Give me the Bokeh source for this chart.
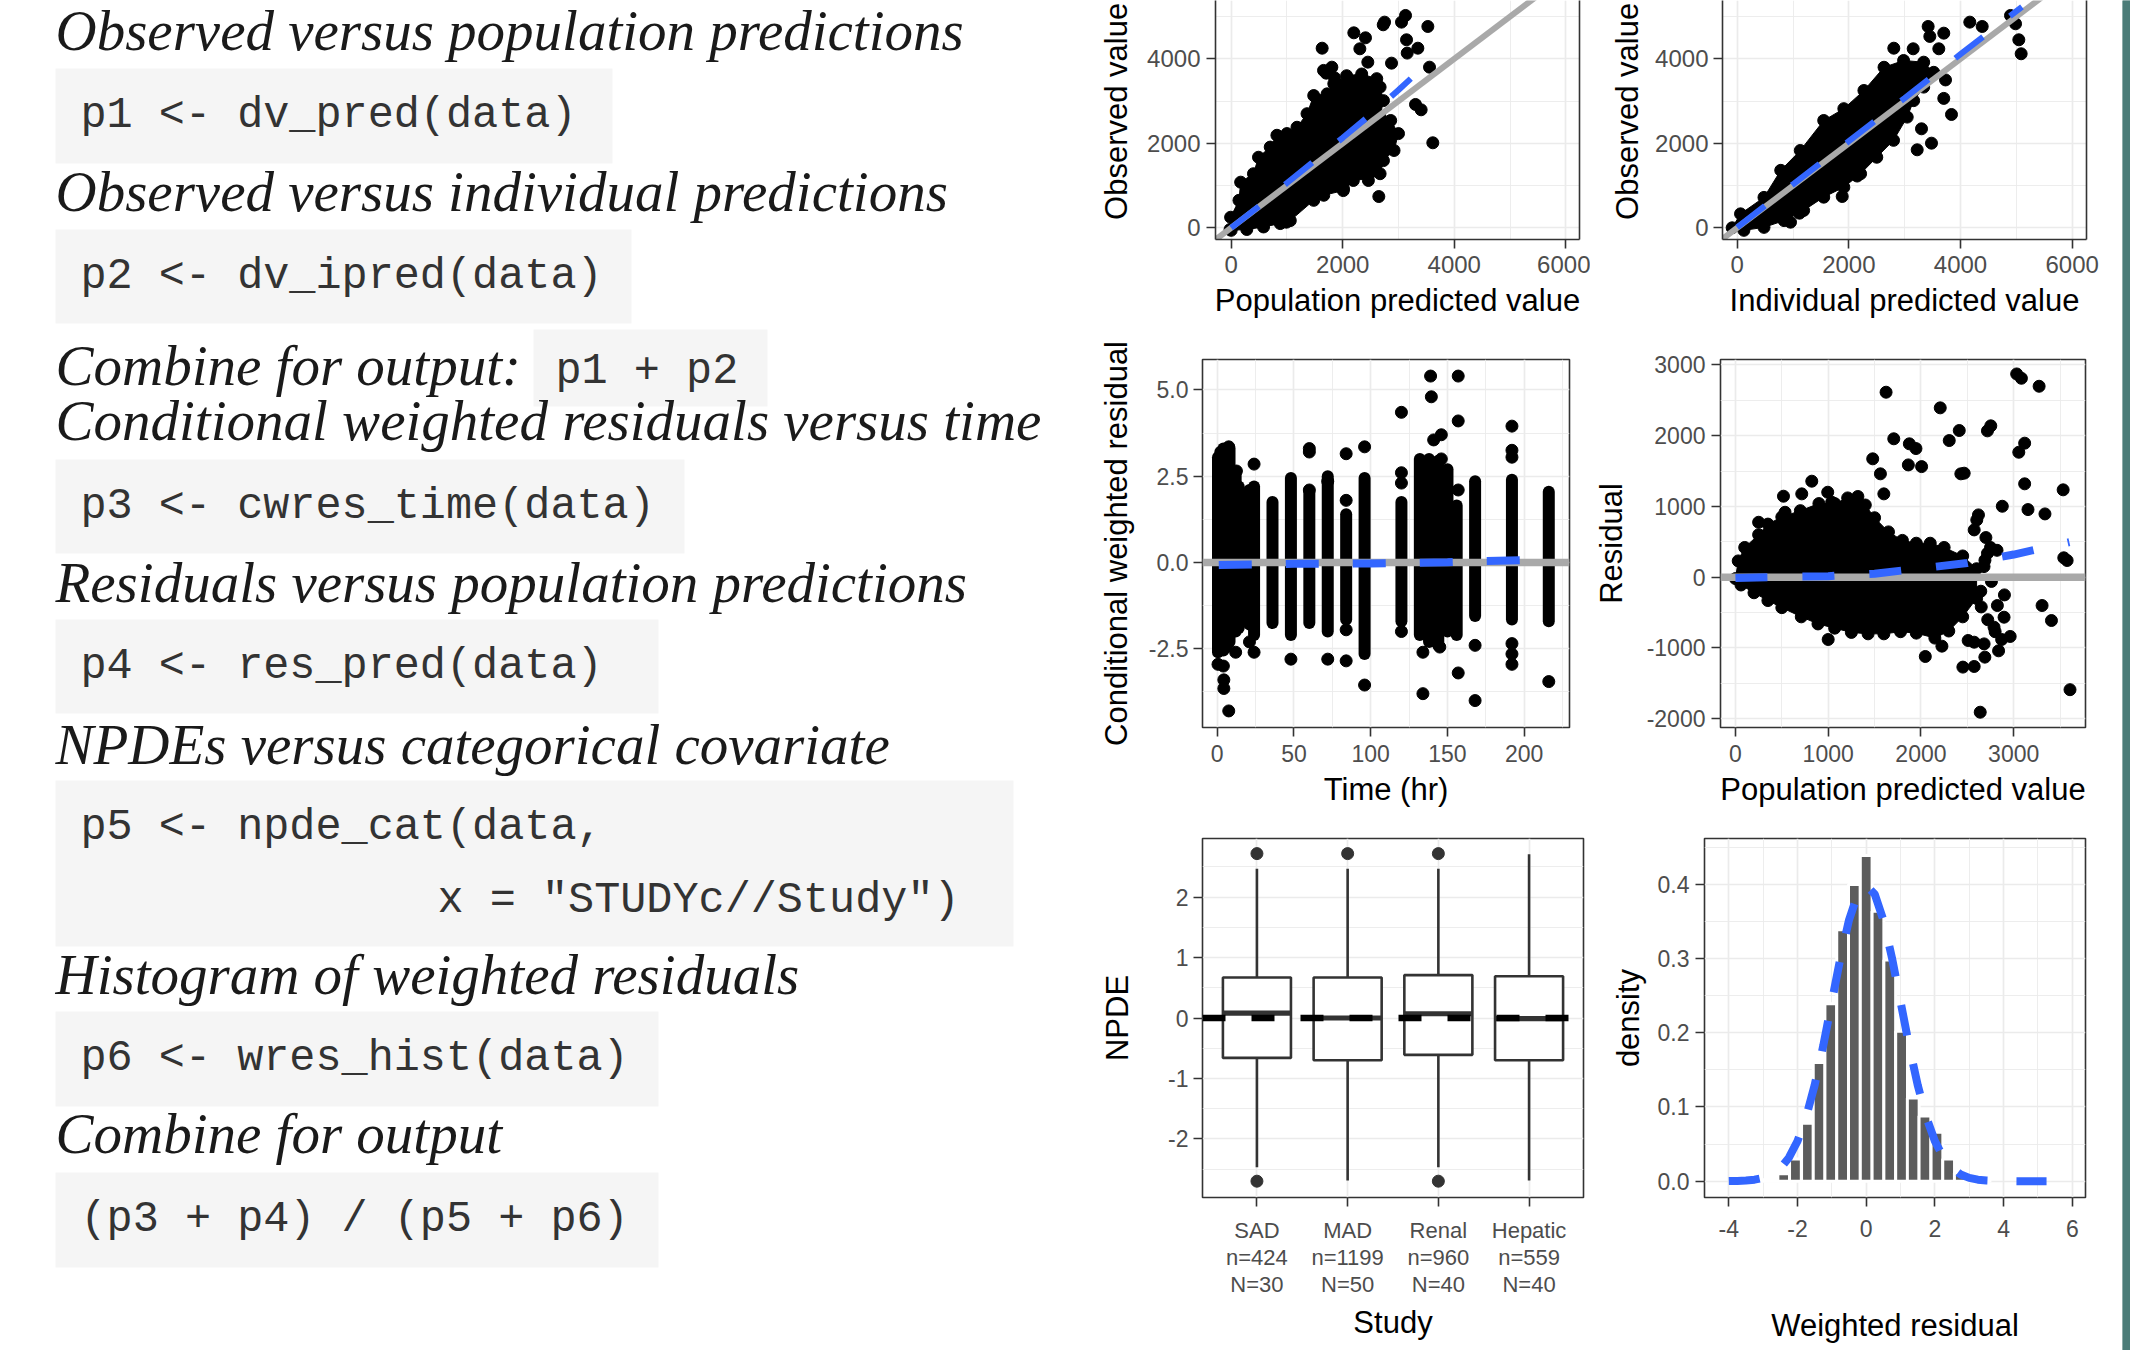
import math
from bokeh.plotting import figure
from bokeh.layouts import row, column
from bokeh.models import Range1d, FixedTicker, LinearAxis
from bokeh.embed import file_html
from bokeh.resources import INLINE
from bokeh.core.properties import value

# ============================ DATA ============================
# ---- left-hand text panel
HEADINGS = [
    "Observed versus population predictions",
    "Observed versus individual predictions",
    "Combine for output:",
    "Conditional weighted residuals versus time",
    "Residuals versus population predictions",
    "NPDEs versus categorical covariate",
    "Histogram of weighted residuals",
    "Combine for output",
]
CODE_BLOCKS = [
    ["p1 <- dv_pred(data)"],
    ["p2 <- dv_ipred(data)"],
    ["p3 <- cwres_time(data)"],
    ["p4 <- res_pred(data)"],
    ["p5 <- npde_cat(data,", "              x = \"STUDYc//Study\")"],
    ["p6 <- wres_hist(data)"],
    ["(p3 + p4) / (p5 + p6)"],
]
INLINE_CODE = "p1 + p2"

# ---- plot 1: observed vs population predictions
P1_X_TICKS = [0, 2000, 4000, 6000]
P1_X_MINOR = [1000, 3000, 5000]
P1_Y_TICKS = [0, 2000, 4000]
P1_Y_MINOR = [1000, 3000, 5000]
P1_CLOUD_PRED = [-20, -10, 140, 170, 400, 490, 700, 820, 1000, 1180, 1360, 1480, 1720, 1840, 2070, 2340,
                 2610, 2670, 2730, 2670, 2860, 3000, 2920, 2730, 2670, 2460, 2310, 2190, 2010, 1660, 1480,
                 1060, 880, 580, 280, 0]
P1_CLOUD_DV = [-40, 250, 650, 1080, 1280, 1670, 1910, 2190, 2230, 2380, 2700, 3130, 3170, 3410, 3600, 3640,
               3530, 3330, 3010, 2620, 2540, 2230, 1830, 1590, 1280, 1120, 1280, 1120, 880, 770, 650,
               170, 100, 20, -40, -60]
P1_PRED = [1631, 2199, 2408, 2307, 2450, 2726, 2750, 3054, 3126, 3144, 3156, 3347, 3526, 2875, 3556, 3305,
           3406, 3615, 2647, 990, 1704, 1853, 2014, 1656, 1805]
P1_DV = [4251, 4615, 4497, 4237, 3921, 4805, 4868, 4868, 5026, 4450, 4135, 4251, 4765, 3897, 3802, 2919,
         2793, 2012, 740, 133, 3660, 3550, 922, 3725, 3802]
P1_SMOOTH_PRED = [0, 500, 1000, 1500, 2000, 2500, 3000, 3220]
P1_SMOOTH_DV = [0, 510, 1060, 1590, 2130, 2680, 3260, 3530]

# ---- plot 2: observed vs individual predictions
P2_CLOUD_IPRED = [-90, 60, 480, 780, 1130, 1550, 1910, 2270, 2630, 2980, 3340, 3520, 3340, 3160, 3045,
                  2800, 2500, 2210, 1910, 1550, 1190, 840, 480, 120]
P2_CLOUD_DV = [0, 330, 720, 1360, 1830, 2540, 2820, 3250, 3800, 3960, 3920, 3680, 3330, 3010, 2620,
               2070, 1670, 1280, 960, 725, 410, 170, 10, -60]
P2_IPRED = [2805, 3152, 3420, 3450, 3700, 3611, 4166, 4388, 4895, 4985, 5044, 5086, 3838, 3700, 3301,
            3480, 3224, 1881, 955, 1116, 2149, 2387, 3731]
P2_DV = [4251, 4237, 4765, 4530, 4607, 4237, 4868, 4765, 5026, 4829, 4450, 4119, 2682, 3063, 2343,
         2003, 1846, 741, 133, 346, 1225, 1830, 3500]
P2_SMOOTH_IPRED = [0, 1000, 2000, 3000, 4000, 5100]
P2_SMOOTH_DV = [10, 1030, 2050, 3070, 4110, 5230]

# ---- plot 3: CWRES vs time
P3_X_TICKS = [0, 50, 100, 150, 200]
P3_X_MINOR = [25, 75, 125, 175, 225]
P3_Y_TICKS = [-2.5, 0.0, 2.5, 5.0]
P3_Y_LABELS = ["-2.5", "0.0", "2.5", "5.0"]
P3_Y_MINOR = [-3.75, -1.25, 1.25, 3.75]
P3_COL_TIME = [0.5, 2, 4, 6, 8, 12, 14, 21, 24, 36, 48, 60, 72, 84, 96, 120, 132, 138, 144, 150, 156, 168, 192, 216]
P3_COL_LO = [-2.6, -2.5, -2.55, -2.45, -2.3, -2.0, -1.9, -1.8, -2.1, -1.75, -2.1, -1.75, -2.0, -1.65, -2.65, -1.7,
             -2.1, -2.3, -2.4, -2.0, -2.1, -1.55, -1.65, -1.7]
P3_COL_HI = [3.05, 3.2, 3.3, 3.3, 3.3, 2.6, 2.2, 2.1, 2.2, 1.75, 2.45, 2.05, 2.5, 1.4, 2.45, 1.75,
             3.0, 3.0, 2.95, 2.7, 1.65, 2.35, 2.4, 2.05]
P3_TIME = [0.5, 4, 4.3, 4.3, 7.5, 7.5, 12, 12.5, 24, 24, 21, 48, 60, 60, 60, 72, 72, 84, 84, 84, 84, 96, 96,
           120, 120, 120, 120, 139, 139.5, 141, 146, 146, 134, 134, 145, 157, 157, 157, 157, 168, 168,
           192, 192, 192, 192, 192, 192, 216]
P3_CWRES = [-2.95, -3.0, -3.4, -3.65, -4.3, 3.35, -2.6, 2.65, 2.85, -2.6, -2.3, -2.8, 3.3, 3.2, 2.1, 2.35,
            -2.8, 3.15, 1.8, -1.95, -2.85, 3.35, -3.55, 4.35, 2.6, 2.3, -2.0, 5.4, 4.8, 3.55, 3.7, 3.0,
            -2.6, -3.8, -2.45, 5.4, 4.1, 2.1, -3.2, -2.4, -4.0, 3.95, 3.25, 3.05, -2.35, -2.65, -2.95, -3.45]
P3_SMOOTH_TIME = [1, 25, 50, 75, 100, 125, 150, 175, 200, 218]
P3_SMOOTH_CWRES = [-0.07, -0.055, -0.04, -0.035, -0.03, -0.01, 0.01, 0.04, 0.065, 0.075]

# ---- plot 4: residuals vs population predictions
P4_X_TICKS = [0, 1000, 2000, 3000]
P4_X_MINOR = [500, 1500, 2500, 3500]
P4_Y_TICKS = [-2000, -1000, 0, 1000, 2000, 3000]
P4_Y_MINOR = [-1500, -500, 500, 1500, 2500]
P4_CLOUD_PRED = [0, 30, 100, 250, 350, 500, 700, 900, 1070, 1210, 1320, 1400, 1500, 1650, 1800, 1950, 2100,
                 2250, 2450, 2600, 2600, 2450, 2300, 2150, 1950, 1780, 1600, 1430, 1250, 1070, 890, 710,
                 500, 350, 200, 60]
P4_CLOUD_RES = [-20, 230, 420, 600, 750, 850, 940, 1040, 1040, 1120, 1140, 1020, 840, 640, 520, 480, 480,
                420, 300, 120, -300, -560, -760, -860, -790, -770, -800, -800, -780, -720, -660, -560,
                -430, -330, -220, -110]
P4_PRED = [1624, 2208, 1707, 1875, 1946, 2305, 2413, 2717, 2753, 3032, 3083, 3274, 3055, 3118, 1480, 1563,
           1864, 2007, 2430, 2466, 3118, 3533, 1600, 2877, 3154, 3337, 823, 518, 715, 995, 1038, 250, 535,
           3576, 3540, 2717, 2602, 2574, 3306, 3407, 2962, 2837, 2047, 2226, 2452, 2574, 2689, 2639, 3607,
           1000, 2788, 2896, 2824, 2645, 2509, 2574, 2681,
           2700, 2750, 2820, 2680, 2760, 2900, 2650, 2720, 2800, 2620, 2690, 2870]
P4_RES = [2613, 2392, 1955, 1884, 1817, 1930, 2072, 2067, 2138, 2871, 2810, 2697, 1765, 1893, 1672, 1460,
          1586, 1562, 1460, 1469, 1319, 1234, 1177, 1002, 955, 894, 1356, 1144, 1177, 1200, 1059, 776, 917,
          236, 274, 337, 809, 668, -400, -612, -837, -1040, -1120, -974, -1270, -1261, -1129, -1907, -1589,
          -880, -706, -565, -400, -198, -894, -918, -942,
          560, 420, 380, 150, -60, -250, -420, -600, -770, 880, 240, -880]
P4_SMOOTH_PRED = [0, 500, 1000, 1500, 2000, 2500, 3000, 3600]
P4_SMOOTH_RES = [-10, 5, 15, 50, 125, 200, 320, 495]

# ---- plot 5: NPDE by study
P5_STUDY = ["SAD", "MAD", "Renal", "Hepatic"]
P5_N_OBS = [424, 1199, 960, 559]
P5_N_ID = [30, 50, 40, 40]
P5_Q1 = [-0.66, -0.70, -0.61, -0.70]
P5_MED = [0.08, 0.0, 0.07, -0.01]
P5_Q3 = [0.67, 0.67, 0.71, 0.69]
P5_WHI = [2.47, 2.47, 2.47, 2.71]
P5_WLO = [-2.47, -2.69, -2.47, -2.69]
P5_OUT_STUDY = ["SAD", "SAD", "MAD", "Renal", "Renal"]
P5_OUT_NPDE = [2.72, -2.70, 2.72, 2.72, -2.70]
P5_Y_TICKS = [-2, -1, 0, 1, 2]
P5_Y_MINOR = [-2.5, -1.5, -0.5, 0.5, 1.5, 2.5]

# ---- plot 6: histogram of weighted residuals
P6_BIN_CENTER = [-3.09, -2.74, -2.40, -2.06, -1.71, -1.37, -1.03, -0.686, -0.343, 0.0, 0.343, 0.686, 1.03,
                 1.37, 1.71, 2.06, 2.40, 2.74, 3.09, 3.43]
P6_DENSITY = [0.002, 0.003, 0.010, 0.030, 0.078, 0.160, 0.239, 0.339, 0.400, 0.439, 0.364, 0.298, 0.202,
              0.112, 0.088, 0.066, 0.030, 0.011, 0.005, 0.003]
P6_BINWIDTH = 0.343
P6_NORM_X = [-4, -3.75, -3.5, -3.25, -3, -2.75, -2.5, -2.25, -2, -1.75, -1.5, -1.25, -1, -0.75, -0.5, -0.25,
             0, 0.25, 0.5, 0.75, 1, 1.25, 1.5, 1.75, 2, 2.25, 2.5, 2.75, 3, 3.25, 3.5, 3.75, 4, 4.5, 5.25]
P6_NORM_Y = [0.0001, 0.0004, 0.0009, 0.002, 0.0044, 0.0091, 0.0175, 0.0317, 0.054, 0.0863, 0.1295, 0.1826,
             0.242, 0.3011, 0.3521, 0.3867, 0.3989, 0.3867, 0.3521, 0.3011, 0.242, 0.1826, 0.1295, 0.0863,
             0.054, 0.0317, 0.0175, 0.0091, 0.0044, 0.002, 0.0009, 0.0004, 0.0001, 0.0, 0.0]
P6_X_TICKS = [-4, -2, 0, 2, 4, 6]
P6_X_MINOR = [-3, -1, 1, 3, 5]
P6_Y_TICKS = [0.0, 0.1, 0.2, 0.3, 0.4]
P6_Y_LABELS = ["0.0", "0.1", "0.2", "0.3", "0.4"]
P6_Y_MINOR = [0.05, 0.15, 0.25, 0.35, 0.45]

# ============================ STYLE / LAYOUT ============================
SANS = "Liberation Sans"
SERIF = "Liberation Serif"
MONO = "Liberation Mono"
BLUE = "#3366FF"
GUIDE = "#a9a9a9"
BORDER = "#333333"
TEAL = "#4b7c78"
TICK_PX = "23px"
TITLE_PX = "31px"
NBSP = "\u00a0"

# left panel geometry (page pixels)
HEAD_Y = [48, 209, 383, 438, 600, 762, 992, 1151]
HEAD_FIX = -18          # svg text baseline correction
CODE_FIX = -12
BLOCKS = [(68, 163, 612), (229, 323, 631), (459, 553, 684), (619, 713, 658),
          (780, 946, 1013), (1011, 1106, 658), (1172, 1267, 658)]
BLOCK_LEFT = 55
CODE_X = 80
CODE_PX = 43.5
INDENT_W = 25.5
INLINE_BOX = (533, 767, 329, 406)
INLINE_X = 555
PAGE_H = 1350
COL_SPLIT = 1590        # page x where the right-hand plot column starts
ROW1_END = 330
ROW2_END = 814


def left_panel():
    p = figure(width=1090, height=PAGE_H, x_range=Range1d(0, 1090), y_range=Range1d(PAGE_H, 0),
               x_axis_type=None, y_axis_type=None, output_backend="svg", toolbar_location=None,
               min_border=0, outline_line_color=None)
    p.grid.visible = False
    lefts = [BLOCK_LEFT] * len(BLOCKS) + [INLINE_BOX[0]]
    rights = [b[2] for b in BLOCKS] + [INLINE_BOX[1]]
    tops = [b[0] for b in BLOCKS] + [INLINE_BOX[2]]
    bottoms = [b[1] for b in BLOCKS] + [INLINE_BOX[3]]
    p.quad(left=lefts, right=rights, top=tops, bottom=bottoms, fill_color="#f5f5f5", line_color=None)
    cx, cy, ct = [], [], []
    for blk, lines in zip(BLOCKS, CODE_BLOCKS):
        for i, ln in enumerate(lines):
            indent = len(ln) - len(ln.lstrip(" "))
            cx.append(CODE_X + indent * INDENT_W)
            cy.append(blk[0] + 59 + 73 * i + CODE_FIX)
            ct.append(ln.lstrip(" "))
    cx.append(INLINE_X); cy.append(HEAD_Y[2] + CODE_FIX); ct.append(INLINE_CODE)
    p.text(x=cx, y=cy, text=ct, text_font=value(MONO), text_font_size=f"{CODE_PX}px",
           text_color="#333333", text_baseline="alphabetic", text_align="left")
    p.text(x=[55] * len(HEADINGS), y=[h + HEAD_FIX for h in HEAD_Y], text=HEADINGS, text_font=value(SERIF),
           text_font_style="italic", text_font_size="57px", text_color="#1a1a1a",
           text_baseline="alphabetic", text_align="left")
    return p


def make_fig(fig_box, frame_box, xr, yr):
    fx0, fy0, fx1, fy1 = fig_box
    gx0, gy0, gx1, gy1 = frame_box
    p = figure(width=fx1 - fx0, height=fy1 - fy0, x_range=Range1d(*xr), y_range=Range1d(*yr),
               output_backend="svg", toolbar_location=None,
               min_border_left=round(gx0 - fx0), min_border_right=round(fx1 - gx1),
               min_border_top=round(gy0 - fy0), min_border_bottom=round(fy1 - gy1))
    p.outline_line_color = BORDER
    p.outline_line_width = 1.6
    p.background_fill_color = "white"
    p.border_fill_color = "white"
    return p


def style_axes(p, xticks, xminor, xlabels, yticks, yminor, ylabels, tick_px, xtitle, ytitle,
               x_std, x_title_std, y_std, y_title_std):
    for ax, ticks, minor, labels, std in ((p.xaxis[0], xticks, xminor, xlabels, x_std),
                                          (p.yaxis[0], yticks, yminor, ylabels, y_std)):
        ax.ticker = FixedTicker(ticks=ticks, minor_ticks=minor)
        ax.major_label_overrides = {k: v for k, v in zip(ticks, labels)}
        ax.axis_line_color = None
        ax.major_tick_line_color = BORDER
        ax.major_tick_line_width = 1.6
        ax.major_tick_in = 0
        ax.major_tick_out = 9
        ax.minor_tick_line_color = None
        ax.major_label_text_font = SANS
        ax.major_label_text_font_size = tick_px
        ax.major_label_text_color = "#4d4d4d"
        ax.major_label_standoff = std
        ax.axis_label_text_font = SANS
        ax.axis_label_text_font_size = TITLE_PX
        ax.axis_label_text_font_style = "normal"
        ax.axis_label_text_color = "black"
    p.xgrid.ticker = p.xaxis[0].ticker
    p.ygrid.ticker = p.yaxis[0].ticker
    for g in (p.xgrid[0], p.ygrid[0]):
        g.grid_line_color = "#ebebeb"
        g.grid_line_width = 1.7
        g.minor_grid_line_color = "#ebebeb"
        g.minor_grid_line_width = 0.9
    p.xaxis.axis_label = xtitle
    p.xaxis.axis_label_standoff = x_title_std
    p.yaxis.axis_label = ytitle
    p.yaxis.axis_label_standoff = y_title_std


def open_top(p):
    # panel continues above the visible page: border drawn by axis lines only
    p.outline_line_color = None
    p.xaxis.axis_line_color = BORDER
    p.yaxis.axis_line_color = BORDER
    p.xaxis.axis_line_width = 1.6
    p.yaxis.axis_line_width = 1.6
    r = LinearAxis(ticker=FixedTicker(ticks=[]), axis_line_color=BORDER, axis_line_width=1.6,
                   major_tick_line_color=None, minor_tick_line_color=None)
    p.add_layout(r, "right")


def str_labels(ticks):
    return [str(t) for t in ticks]


# title of the top panels is centred on the full (taller) panel: pad its start a little
CUT_TITLE = NBSP * 2 + "Observed value"

# ---------------- plot 1
F1 = (1090, 0, COL_SPLIT, ROW1_END); G1 = (1215, 0, 1579, 239)
XR1 = (-281, 6245); YR1 = (-277, 5380)
p1 = make_fig(F1, G1, XR1, YR1)
style_axes(p1, P1_X_TICKS, P1_X_MINOR, str_labels(P1_X_TICKS), P1_Y_TICKS, P1_Y_MINOR,
           str_labels(P1_Y_TICKS), "24px", "Population predicted value", CUT_TITLE, 7, 7, 6, 10)
open_top(p1)
p1.patch(P1_CLOUD_PRED, P1_CLOUD_DV, fill_color="black", line_color="black")
p1.scatter(P1_CLOUD_PRED, P1_CLOUD_DV, size=12, color="black")
p1.scatter(P1_PRED, P1_DV, size=12, color="black")
p1.line([XR1[0], YR1[1] * 1.3], [XR1[0], YR1[1] * 1.3], line_color=GUIDE, line_width=6)
p1.line(P1_SMOOTH_PRED, P1_SMOOTH_DV, line_color=BLUE, line_width=6, line_dash="35 34")

# ---------------- plot 2
F2 = (COL_SPLIT, 0, 2122, ROW1_END); G2 = (1722, 0, 2086, 239)
XR2 = (-263, 6256); YR2 = (-277, 5380)
p2 = make_fig(F2, G2, XR2, YR2)
style_axes(p2, P1_X_TICKS, P1_X_MINOR, str_labels(P1_X_TICKS), P1_Y_TICKS, P1_Y_MINOR,
           str_labels(P1_Y_TICKS), "24px", "Individual predicted value", CUT_TITLE, 7, 7, 5, 7)
open_top(p2)
p2.patch(P2_CLOUD_IPRED, P2_CLOUD_DV, fill_color="black", line_color="black")
p2.scatter(P2_CLOUD_IPRED, P2_CLOUD_DV, size=12, color="black")
p2.scatter(P2_IPRED, P2_DV, size=12, color="black")
p2.line([XR2[0], YR2[1] * 1.3], [XR2[0], YR2[1] * 1.3], line_color=GUIDE, line_width=6)
p2.line(P2_SMOOTH_IPRED, P2_SMOOTH_DV, line_color=BLUE, line_width=6, line_dash="35 34")

# ---------------- plot 3
F3 = (1090, ROW1_END, COL_SPLIT, ROW2_END); G3 = (1202, 359, 1569, 727)
XR3 = (-9.6, 229.5); YR3 = (-4.78, 5.88)
p3 = make_fig(F3, G3, XR3, YR3)
style_axes(p3, P3_X_TICKS, P3_X_MINOR, str_labels(P3_X_TICKS), P3_Y_TICKS, P3_Y_MINOR,
           P3_Y_LABELS, TICK_PX, "Time (hr)", "Conditional weighted residual", 8, 7, 5, 12)
p3.segment(x0=P3_COL_TIME, y0=P3_COL_LO, x1=P3_COL_TIME, y1=P3_COL_HI, line_width=12,
           line_cap="round", color="black")
p3.scatter(P3_TIME, P3_CWRES, size=12, color="black")
p3.line([XR3[0], XR3[1]], [0, 0], line_color=GUIDE, line_width=7.5)
p3.line(P3_SMOOTH_TIME, P3_SMOOTH_CWRES, line_color=BLUE, line_width=8, line_dash="33 34")

# ---------------- plot 4
F4 = (COL_SPLIT, ROW1_END, 2122, ROW2_END); G4 = (1719, 359, 2085, 727)
XR4 = (-161, 3774); YR4 = (-2123, 3075)
p4 = make_fig(F4, G4, XR4, YR4)
style_axes(p4, P4_X_TICKS, P4_X_MINOR, str_labels(P4_X_TICKS), P4_Y_TICKS, P4_Y_MINOR,
           str_labels(P4_Y_TICKS), TICK_PX, "Population predicted value", "Residual", 8, 7, 6, 15)
p4.patch(P4_CLOUD_PRED, P4_CLOUD_RES, fill_color="black", line_color="black")
p4.scatter(P4_CLOUD_PRED, P4_CLOUD_RES, size=12, color="black")
p4.scatter(P4_PRED, P4_RES, size=12, color="black")
p4.line([XR4[0], XR4[1]], [0, 0], line_color=GUIDE, line_width=7.5)
p4.line(P4_SMOOTH_PRED, P4_SMOOTH_RES, line_color=BLUE, line_width=8, line_dash="32 35")

# ---------------- plot 5
F5 = (1090, ROW2_END, COL_SPLIT, PAGE_H); G5 = (1202, 838, 1583, 1197)
XR5 = (0.4, 4.6); YR5 = (-2.97, 2.97)
p5 = make_fig(F5, G5, XR5, YR5)
cat_pos = list(range(1, len(P5_STUDY) + 1))
cat_labels = [f"{s}\nn={n}\nN={m}" for s, n, m in zip(P5_STUDY, P5_N_OBS, P5_N_ID)]
style_axes(p5, cat_pos, [], cat_labels, P5_Y_TICKS, P5_Y_MINOR, str_labels(P5_Y_TICKS),
           TICK_PX, "Study", "NPDE", 11, 5, 5, 30)
p5.xaxis.major_label_text_font_size = "22px"
p5.xaxis.major_label_text_line_height = 1.08
pos_of = {s: i for s, i in zip(P5_STUDY, cat_pos)}
p5.segment(x0=cat_pos, y0=P5_Q3, x1=cat_pos, y1=P5_WHI, line_color=BORDER, line_width=2.6)
p5.segment(x0=cat_pos, y0=P5_Q1, x1=cat_pos, y1=P5_WLO, line_color=BORDER, line_width=2.6)
p5.quad(left=[c - 0.375 for c in cat_pos], right=[c + 0.375 for c in cat_pos], bottom=P5_Q1, top=P5_Q3,
        fill_color="white", line_color=BORDER, line_width=2.6)
p5.segment(x0=[c - 0.375 for c in cat_pos], y0=P5_MED, x1=[c + 0.375 for c in cat_pos], y1=P5_MED,
           line_color=BORDER, line_width=5.2)
p5.scatter([pos_of[s] for s in P5_OUT_STUDY], P5_OUT_NPDE, size=12, color=BORDER)
p5.line([XR5[0], XR5[1]], [0, 0], line_color="black", line_width=6.5, line_dash="23 26")

# ---------------- plot 6
F6 = (COL_SPLIT, ROW2_END, 2122, PAGE_H); G6 = (1704, 838, 2085, 1197)
XR6 = (-4.707, 6.384); YR6 = (-0.022, 0.4619)
p6 = make_fig(F6, G6, XR6, YR6)
style_axes(p6, P6_X_TICKS, P6_X_MINOR, str_labels(P6_X_TICKS), P6_Y_TICKS, P6_Y_MINOR,
           P6_Y_LABELS, TICK_PX, "Weighted residual", "density", 13, 68, 6, 9)
p6.quad(left=[c - P6_BINWIDTH / 2 for c in P6_BIN_CENTER], right=[c + P6_BINWIDTH / 2 for c in P6_BIN_CENTER],
        bottom=0, top=P6_DENSITY, fill_color="#5c5c5c", line_color="white", line_width=3)
p6.line(P6_NORM_X, P6_NORM_Y, line_color=BLUE, line_width=8, line_dash="31 29")

# ---------------- teal edge
teal = figure(width=8, height=PAGE_H, x_range=Range1d(0, 1), y_range=Range1d(0, 1), x_axis_type=None,
              y_axis_type=None, output_backend="svg", toolbar_location=None, min_border=0,
              outline_line_color=None, background_fill_color=TEAL, border_fill_color=TEAL)
teal.grid.visible = False
teal.quad(left=[0], right=[1], bottom=[0], top=[1], fill_color=TEAL, line_color=None)

root = row(left_panel(),
           column(row(p1, p2), row(p3, p4), row(p5, p6)),
           teal)

with open("out.html", "w") as f:
    f.write(file_html(root, INLINE))
